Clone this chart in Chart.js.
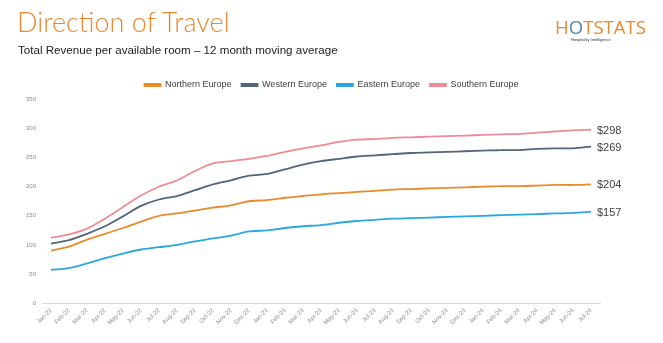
<!DOCTYPE html>
<html>
<head>
<meta charset="utf-8">
<script src="https://cdn.jsdelivr.net/npm/chart.js@4"></script>
<style>
  body { margin: 0; background: #fff; }
  #wrap { position: relative; width: 663px; height: 343px; overflow: hidden; }
  #chart { position: absolute; left: 0; top: 0; }
  .title { position: absolute; left: 17px; top: 5px; font-family: Lato, sans-serif; font-weight: 300; font-size: 27px; color: #E8892F; }
  .sub { position: absolute; left: 18px; top: 43px; font-family: "Liberation Sans", Arial, sans-serif; font-size: 11.6px; color: #222; }
  .logo { position: absolute; left: 555px; top: 14px; font-family: "Open Sans", sans-serif; font-size: 18.6px; color: #E8892F; }
  .logo .o { color: #5a7fa8; }
  .tag { position: absolute; left: 571px; top: 37px; font-family: "Liberation Sans", sans-serif; font-size: 4px; color: #333; }
</style>
</head>
<body>
<div id="wrap">
  <canvas id="chart" width="663" height="343"></canvas>
  <div class="title">Direction of Travel</div>
  <div class="sub">Total Revenue per available room – 12 month moving average</div>
  <div class="logo">H<span class="o">O</span>TSTATS</div>
  <div class="tag">Hospitality Intelligence</div>
</div>
<script>
var months = ["Jan-22","Feb-22","Mar-22","Apr-22","May-22","Jun-22","Jul-22","Aug-22","Sep-22","Oct-22","Nov-22","Dec-22",
    "Jan-23","Feb-23","Mar-23","Apr-23","May-23","Jun-23","Jul-23","Aug-23","Sep-23","Oct-23","Nov-23","Dec-23",
    "Jan-24","Feb-24","Mar-24","Apr-24","May-24","Jun-24","Jul-24"];

var northern = [90,97,109,119,129,140,150,154,159,164,168,175,177,181,184,187,189,191,193,195,196,197,198,199,200,201,201,202,203,203,204];
var western  = [102,108,119,132,149,167,178,184,194,204,211,219,222,230,238,244,248,252,254,256,258,259,260,261,262,263,263,265,266,266,269];
var eastern  = [57,60,68,77,85,92,96,100,106,111,116,123,125,129,132,134,138,141,143,145,146,147,148,149,150,151,152,153,154,155,157];
var southern = [112,118,128,145,165,185,200,211,227,240,244,248,253,260,266,271,277,281,282,284,285,286,287,288,289,290,291,293,295,297,298];

var yTicks = [0,50,100,150,200,250,300,350];

function makeSet(label, data, color) {
    return {
        label: label,
        data: data,
        borderColor: color,
        backgroundColor: color,
        borderWidth: 1.8,
        pointRadius: 0,
        tension: 0.3,
        yAxisID: 'y'
    };
}

// writes $value next to the last point of each line
var endLabels = {
    id: 'endLabels',
    afterDatasetsDraw: function (chart) {
        var ctx = chart.ctx;
        ctx.save();
        ctx.font = '11px "Liberation Sans", Arial, sans-serif';
        ctx.fillStyle = '#404040';
        ctx.textBaseline = 'middle';
        chart.data.datasets.forEach(function (ds, i) {
            var meta = chart.getDatasetMeta(i);
            var last = meta.data[meta.data.length - 1];
            ctx.fillText('$' + ds.data[ds.data.length - 1], last.x + 6, last.y + 1);
        });
        ctx.restore();
    }
};

var ctx = document.getElementById('chart').getContext('2d');
new Chart(ctx, {
    type: 'line',
    data: {
        labels: months,
        datasets: [
            makeSet('Northern Europe', northern, '#E98B2A'),
            makeSet('Western Europe', western, '#50667A'),
            makeSet('Eastern Europe', eastern, '#29A8E0'),
            makeSet('Southern Europe', southern, '#EE8C95')
        ]
    },
    options: {
        responsive: false,
        animation: false,
        layout: { padding: { top: 70.5, right: 0, left: 0, bottom: 0 } },
        plugins: {
            legend: {
                labels: {
                    boxWidth: 16,
                    boxHeight: 2,
                    padding: 10,
                    color: '#404040',
                    font: { family: '"Liberation Sans", Arial, sans-serif', size: 9 }
                }
            },
            tooltip: { enabled: false }
        },
        scales: {
            x: {
                offset: true,
                grid: { display: false, drawTicks: false },
                border: { display: true, color: '#d9d9d9' },
                ticks: {
                    minRotation: 45,
                    maxRotation: 45,
                    autoSkip: false,
                    padding: 4,
                    color: '#8c8c8c',
                    font: { family: '"Liberation Sans", Arial, sans-serif', size: 6 }
                },
                afterFit: function (scale) { scale.height = 40; }
            },
            y: {
                min: 0,
                max: 350,
                afterBuildTicks: function (scale) {
                    scale.ticks = yTicks.map(function (v) { return { value: v }; });
                },
                grid: { display: false, drawTicks: false },
                border: { display: false },
                ticks: {
                    padding: 6,
                    color: '#8c8c8c',
                    font: { family: '"Liberation Sans", Arial, sans-serif', size: 6 }
                },
                afterFit: function (scale) { scale.width = 42; }
            },
            // empty right axis, room for the $ labels
            yRight: {
                position: 'right',
                grid: { display: false, drawTicks: false },
                border: { display: false },
                ticks: { display: false },
                afterFit: function (scale) { scale.width = 63; }
            }
        }
    },
    plugins: [endLabels]
});
</script>
</body>
</html>
